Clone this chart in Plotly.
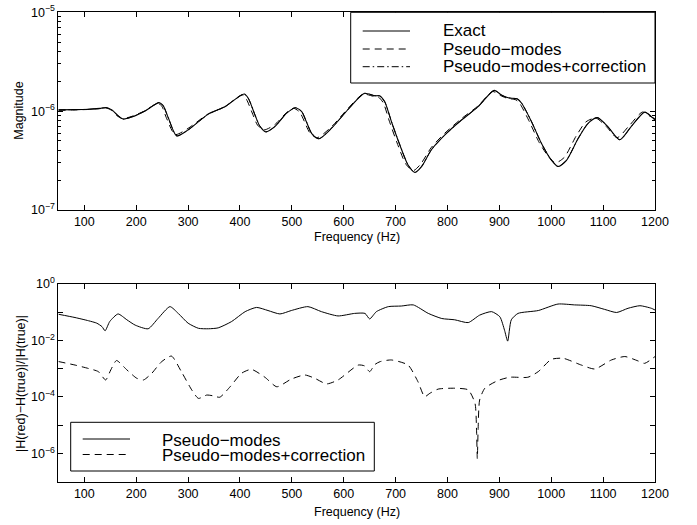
import plotly.graph_objects as go

W, H = 697, 525

# ---------------- Top panel data (magnitude) ----------------
FREQ_EXACT = [50, 80, 108, 130, 143, 153, 165, 175, 191, 217, 244, 252, 262, 278, 300,
              339, 371, 408, 416, 429, 438, 450, 467, 490, 507, 519, 528, 538, 552, 577,
              602, 628, 640, 660, 669, 679, 692, 708, 724, 737, 750, 769, 795, 827, 859,
              890, 904, 917, 935, 943, 962, 981, 1000, 1013, 1029, 1052, 1071, 1089, 1109,
              1132, 1154, 1180, 1193, 1200]
MAG_EXACT = [1.03e-6, 1.035e-6, 1.045e-6, 1.067e-6, 1.084e-6, 1.03e-6, 8.99e-7, 8.32e-7,
             8.71e-7, 1.005e-6, 1.22e-6, 1.135e-6, 8.51e-7, 5.62e-7, 6.46e-7, 9.33e-7,
             1.109e-6, 1.49e-6, 1.349e-6, 9.12e-7, 7.08e-7, 6.17e-7, 6.97e-7, 9.55e-7,
             1.084e-6, 9.89e-7, 7.82e-7, 5.97e-7, 5.25e-7, 6.76e-7, 9.55e-7, 1.349e-6,
             1.514e-6, 1.432e-6, 1.43e-6, 1.247e-6, 7.82e-7, 4.57e-7, 2.85e-7, 2.40e-7,
             2.75e-7, 4.07e-7, 5.75e-7, 8.13e-7, 1.109e-6, 1.622e-6, 1.455e-6, 1.365e-6,
             1.327e-6, 1.202e-6, 7.82e-7, 4.73e-7, 3.21e-7, 2.75e-7, 3.16e-7, 5.31e-7,
             7.53e-7, 8.59e-7, 6.97e-7, 5.13e-7, 6.97e-7, 9.77e-7, 8.79e-7, 8.13e-7]

FREQ_PSEUDO = [50, 80, 108, 130, 141, 151, 163, 173, 190, 217, 241, 249, 258, 275, 300,
               339, 371, 404, 412, 425, 434, 446, 467, 490, 503, 515, 524, 535, 549, 577,
               602, 628, 638, 658, 666, 676, 688, 704, 720, 734, 748, 769, 795, 827, 859,
               887, 902, 915, 932, 940, 958, 977, 996, 1008, 1025, 1048, 1067, 1086, 1106,
               1127, 1150, 1176, 1190, 1200]
MAG_PSEUDO = [1.02e-6, 1.03e-6, 1.04e-6, 1.06e-6, 1.08e-6, 1.03e-6, 9.0e-7, 8.4e-7,
              8.8e-7, 1.01e-6, 1.20e-6, 1.13e-6, 8.6e-7, 5.8e-7, 6.7e-7, 9.4e-7,
              1.11e-6, 1.46e-6, 1.33e-6, 9.2e-7, 7.2e-7, 6.45e-7, 7.3e-7, 9.7e-7,
              1.07e-6, 9.8e-7, 7.9e-7, 6.0e-7, 5.4e-7, 7.0e-7, 9.8e-7, 1.37e-6,
              1.49e-6, 1.41e-6, 1.40e-6, 1.22e-6, 7.9e-7, 4.6e-7, 2.9e-7, 2.50e-7,
              2.9e-7, 4.3e-7, 6.0e-7, 8.4e-7, 1.13e-6, 1.58e-6, 1.44e-6, 1.35e-6,
              1.30e-6, 1.18e-6, 7.8e-7, 4.8e-7, 3.4e-7, 3.0e-7, 3.4e-7, 5.6e-7,
              7.8e-7, 8.5e-7, 7.0e-7, 5.4e-7, 7.1e-7, 9.8e-7, 8.9e-7, 8.4e-7]

FREQ_CORR = FREQ_EXACT
MAG_CORR = [1.03e-6, 1.035e-6, 1.044e-6, 1.066e-6, 1.083e-6, 1.031e-6, 9.0e-7, 8.33e-7,
            8.72e-7, 1.004e-6, 1.218e-6, 1.136e-6, 8.53e-7, 5.63e-7, 6.45e-7, 9.32e-7,
            1.108e-6, 1.488e-6, 1.35e-6, 9.14e-7, 7.1e-7, 6.18e-7, 6.96e-7, 9.54e-7,
            1.083e-6, 9.9e-7, 7.84e-7, 5.98e-7, 5.26e-7, 6.75e-7, 9.54e-7, 1.348e-6,
            1.512e-6, 1.431e-6, 1.43e-6, 1.248e-6, 7.84e-7, 4.58e-7, 2.86e-7, 2.41e-7,
            2.76e-7, 4.06e-7, 5.74e-7, 8.12e-7, 1.108e-6, 1.62e-6, 1.454e-6, 1.364e-6,
            1.326e-6, 1.203e-6, 7.84e-7, 4.74e-7, 3.22e-7, 2.76e-7, 3.17e-7, 5.3e-7,
            7.52e-7, 8.58e-7, 6.98e-7, 5.14e-7, 6.96e-7, 9.76e-7, 8.8e-7, 8.14e-7]

# ---------------- Bottom panel data (relative error) ----------------
FREQ_ERR_PM = [50, 82, 108, 124, 134, 140, 149, 165, 182, 198, 223, 242, 265, 281, 300,
               320, 339, 358, 384, 410, 432, 454, 477, 499, 531, 557, 589, 621, 641, 650,
               663, 686, 711, 734, 763, 789, 814, 840, 862, 885, 901, 910, 916, 923, 936,
               975, 1013, 1045, 1077, 1103, 1126, 1148, 1171, 1193, 1200]
ERR_PM = [0.085, 0.065, 0.050, 0.041, 0.031, 0.022, 0.047, 0.087, 0.054, 0.035, 0.026,
          0.060, 0.158, 0.091, 0.041, 0.027, 0.026, 0.028, 0.047, 0.105, 0.148, 0.115,
          0.087, 0.115, 0.158, 0.105, 0.074, 0.091, 0.091, 0.058, 0.105, 0.158, 0.166,
          0.182, 0.091, 0.060, 0.054, 0.043, 0.079, 0.105, 0.069, 0.023, 0.0095, 0.054,
          0.091, 0.115, 0.195, 0.182, 0.170, 0.126, 0.098, 0.138, 0.170, 0.138, 0.120]

FREQ_ERR_PMC = [50, 82, 108, 127, 141, 151, 162, 182, 201, 214, 230, 249, 268, 287, 307,
                320, 336, 348, 361, 381, 403, 422, 448, 471, 499, 525, 544, 567, 589, 628,
                640, 650, 660, 670, 692, 724, 743, 756, 766, 782, 814, 840, 853, 856,
                857.5, 859, 862, 872, 897, 920, 955, 975, 1000, 1023, 1058, 1084, 1116,
                1142, 1167, 1180, 1200]
ERR_PMC = [1.8e-3, 1.35e-3, 1.02e-3, 7.9e-4, 4.0e-4, 9.1e-4, 1.95e-3, 9.1e-4, 4.6e-4,
           4.0e-4, 6.9e-4, 1.78e-3, 2.8e-3, 7.9e-4, 1.78e-4, 8.9e-5, 1.17e-4, 1.1e-4,
           9.8e-5, 2.3e-4, 6.9e-4, 9.5e-4, 5.0e-4, 2.3e-4, 4.3e-4, 6.0e-4, 4.6e-4,
           2.9e-4, 4.0e-4, 1.35e-3, 1.26e-3, 7.9e-4, 1.41e-3, 1.78e-3, 2.04e-3, 1.35e-3,
           3.5e-4, 1.02e-4, 1.35e-4, 1.9e-4, 2.04e-4, 1.78e-4, 6.0e-5, 6.8e-6, 6.5e-7,
           6.8e-6, 7.8e-5, 2.04e-4, 3.8e-4, 5.0e-4, 5.0e-4, 7.9e-4, 2.14e-3, 2.34e-3,
           1.35e-3, 9.8e-4, 2.04e-3, 2.7e-3, 1.9e-3, 1.55e-3, 2.7e-3]

X_TICKS = [100, 200, 300, 400, 500, 600, 700, 800, 900, 1000, 1100, 1200]
TOP_Y_TICKS = [1e-7, 1e-6, 1e-5]
TOP_Y_LABELS = ["10<sup>−7</sup>", "10<sup>−6</sup>", "10<sup>−5</sup>"]
TOP_Y_MINOR = [2e-7, 3e-7, 4e-7, 5e-7, 6e-7, 7e-7, 8e-7, 9e-7,
               2e-6, 3e-6, 4e-6, 5e-6, 6e-6, 7e-6, 8e-6, 9e-6]
BOT_Y_TICKS = [1e-6, 1e-4, 1e-2, 1e0]
BOT_Y_LABELS = ["10<sup>−6</sup>", "10<sup>−4</sup>", "10<sup>−2</sup>", "10<sup>0</sup>"]
BOT_Y_MINOR = [1e-7, 1e-5, 1e-3, 1e-1]

TOP_LEGEND = ["Exact", "Pseudo−modes", "Pseudo−modes+correction"]
BOT_LEGEND = ["Pseudo−modes", "Pseudo−modes+correction"]

FONT = "Liberation Sans, Arial, Helvetica, sans-serif"
DASH = "7px,5px"
DASHDOT = "7px,3px,1.5px,3px"


def px(x):
    return x / W


def py(y):
    return 1 - y / H


fig = go.Figure()
fig.add_trace(go.Scatter(x=FREQ_PSEUDO, y=MAG_PSEUDO, mode="lines", name=TOP_LEGEND[1],
                         line=dict(color="black", width=1, dash=DASH, shape="spline", smoothing=0.7),
                         xaxis="x", yaxis="y"))
fig.add_trace(go.Scatter(x=FREQ_CORR, y=MAG_CORR, mode="lines", name=TOP_LEGEND[2],
                         line=dict(color="black", width=1, dash=DASHDOT, shape="spline", smoothing=0.7),
                         xaxis="x", yaxis="y"))
fig.add_trace(go.Scatter(x=FREQ_EXACT, y=MAG_EXACT, mode="lines", name=TOP_LEGEND[0],
                         line=dict(color="black", width=1.1, shape="spline", smoothing=0.7),
                         xaxis="x", yaxis="y"))
fig.add_trace(go.Scatter(x=FREQ_ERR_PM, y=ERR_PM, mode="lines", name=BOT_LEGEND[0],
                         line=dict(color="black", width=1, shape="spline", smoothing=0.6),
                         xaxis="x2", yaxis="y2"))
fig.add_trace(go.Scatter(x=FREQ_ERR_PMC, y=ERR_PMC, mode="lines", name=BOT_LEGEND[1],
                         line=dict(color="black", width=1, dash=DASH, shape="spline", smoothing=0.6),
                         xaxis="x2", yaxis="y2"))

axis_common = dict(showline=True, linecolor="black", linewidth=1, mirror="ticks",
                   ticks="inside", ticklen=5, tickcolor="black", tickwidth=1,
                   showgrid=False, zeroline=False, automargin=False,
                   tickfont=dict(family=FONT, size=12.5, color="black"))

X_DOM = [px(58.4), px(655)]
fig.update_layout(
    template="none",
    width=W, height=H,
    margin=dict(l=0, r=0, t=0, b=0, autoexpand=False),
    paper_bgcolor="white", plot_bgcolor="white",
    showlegend=False,
    font=dict(family=FONT, color="black"),
    xaxis=dict(domain=X_DOM, anchor="y", range=[50, 1200], tickmode="array",
               tickvals=X_TICKS, **axis_common),
    yaxis=dict(domain=[py(210), py(12.3)], anchor="x", type="log", range=[-7, -5],
               tickmode="array", tickvals=TOP_Y_TICKS, ticktext=TOP_Y_LABELS,
               minor=dict(tickmode="array", tickvals=TOP_Y_MINOR, ticks="inside",
                          ticklen=3, tickcolor="black", showgrid=False),
               **axis_common),
    xaxis2=dict(domain=X_DOM, anchor="y2", range=[50, 1200], tickmode="array",
                tickvals=X_TICKS, **axis_common),
    yaxis2=dict(domain=[py(481.7), py(284)], anchor="x2", type="log", range=[-7, 0],
                tickmode="array", tickvals=BOT_Y_TICKS, ticktext=BOT_Y_LABELS,
                minor=dict(tickmode="array", tickvals=BOT_Y_MINOR, ticks="inside",
                           ticklen=5, tickcolor="black", showgrid=False),
                **axis_common),
)

ann = []
shapes = []
# Axis titles
ann.append(dict(text="Frequency (Hz)", x=px(356.5), y=py(237), xref="paper", yref="paper",
                showarrow=False, xanchor="center", yanchor="middle",
                font=dict(family=FONT, size=12.5)))
ann.append(dict(text="Frequency (Hz)", x=px(356.5), y=py(512), xref="paper", yref="paper",
                showarrow=False, xanchor="center", yanchor="middle",
                font=dict(family=FONT, size=12.5)))
ann.append(dict(text="Magnitude", x=px(18.7), y=py(111), xref="paper", yref="paper",
                showarrow=False, xanchor="center", yanchor="middle", textangle=-90,
                font=dict(family=FONT, size=12.5)))
ann.append(dict(text="|H(red)−H(true)|/|H(true)|", x=px(20.5), y=py(383.5), xref="paper",
                yref="paper", showarrow=False, xanchor="center", yanchor="middle",
                textangle=-90, font=dict(family=FONT, size=12.5)))

# Top legend (manual box)
shapes.append(dict(type="rect", xref="paper", yref="paper", x0=px(350.7), x1=px(655),
                   y0=py(83), y1=py(12.3), line=dict(color="black", width=1),
                   fillcolor="white", layer="above"))
top_rows = [31, 49, 66.7]
top_dash = ["solid", DASH, DASHDOT]
for label, yy, d in zip(TOP_LEGEND, top_rows, top_dash):
    shapes.append(dict(type="line", xref="paper", yref="paper", x0=px(362.7), x1=px(410),
                       y0=py(yy), y1=py(yy), line=dict(color="black", width=1, dash=d),
                       layer="above"))
    ann.append(dict(text=label, x=px(441.7), y=py(yy), xref="paper", yref="paper",
                    showarrow=False, xanchor="left", yanchor="middle", borderpad=0,
                    font=dict(family=FONT, size=17)))

# Bottom legend
shapes.append(dict(type="rect", xref="paper", yref="paper", x0=px(70.7), x1=px(374.3),
                   y0=py(471), y1=py(422.3), line=dict(color="black", width=1),
                   fillcolor="white", layer="above"))
bot_rows = [439, 454.5]
bot_dash = ["solid", DASH]
for label, yy, d in zip(BOT_LEGEND, bot_rows, bot_dash):
    shapes.append(dict(type="line", xref="paper", yref="paper", x0=px(82.7), x1=px(130),
                       y0=py(yy), y1=py(yy), line=dict(color="black", width=1, dash=d),
                       layer="above"))
    ann.append(dict(text=label, x=px(161), y=py(yy + 1), xref="paper", yref="paper",
                    showarrow=False, xanchor="left", yanchor="middle", borderpad=0,
                    font=dict(family=FONT, size=17)))

fig.update_layout(annotations=ann, shapes=shapes)
fig.write_html("out.html", config={"displayModeBar": False},
               post_script="document.body.style.margin='0';document.body.style.padding='0';")
